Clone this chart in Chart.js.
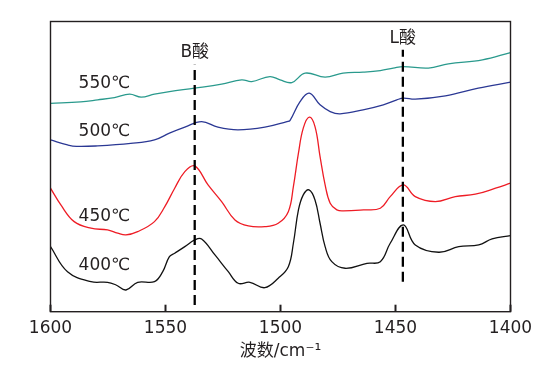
<!DOCTYPE html>
<html><head><meta charset="utf-8">
<script src="https://cdn.jsdelivr.net/npm/chart.js@4/dist/chart.umd.min.js"></script>
<style>html,body{margin:0;padding:0;background:#fff}</style>
</head><body>
<canvas id="c" width="550" height="367"></canvas>
<script>
// ---- data (wavenumber in cm^-1, absorbance in arbitrary units) ----
const xTicks = [1600, 1550, 1500, 1450, 1400];

const wn550 = [1600,1586.9,1579.5,1572.2,1565.6,1560.6,1554.8,1548.3,1537.3,1525.6,1516.9,1512.5,1504.6,1500.2,1495.1,1489.3,1480.6,1472.8,1464.1,1456.6,1451,1446.6,1435.7,1427,1412.2,1400];
const ab550 = [208.2,209.7,211.7,214,217.4,214.4,217.4,220,223.4,227.4,231.7,230,235,231.7,229,238.4,234.4,238.4,239.4,241,243.4,245,243.4,247.7,251.7,259];

const wn500 = [1600,1592.6,1588.7,1579.5,1565.1,1554.8,1548.3,1541.6,1534.3,1527.2,1518.5,1506.8,1497.2,1495.9,1491.5,1487.5,1482.8,1478.4,1474.1,1464.1,1455.3,1449.4,1446.6,1441.4,1428.3,1414,1400];
const ab500 = [171.7,166.7,165.2,165.7,168.2,171.7,178.4,184.4,190,184.4,181.7,184.4,190,191,210,218.4,206.7,200,197.7,201.7,206.7,211.7,213.4,212.4,215.7,223.4,229.4];

const wn450 = [1600,1595.5,1589.7,1582.4,1575.2,1570.8,1567.2,1562.1,1554.8,1550.3,1546,1541.6,1537.3,1531.5,1525.6,1519.8,1514,1506.8,1501,1496.6,1494.4,1492.2,1490.1,1487.5,1485,1482.8,1480.6,1478.4,1475.5,1472.6,1463.9,1456.6,1452.3,1446.6,1441.4,1432.7,1424,1415.3,1406.5,1400];
const ab450 = [123.4,106.7,90,83.4,81.7,78.4,76.7,80,90,105,123.4,140,145.7,126.7,110,91.7,85.7,85,88.4,100,125,158.4,183.4,194.4,185,155,126.7,108.4,101.7,100.7,101.7,103.4,115,126.7,115,110,115,117.4,123.4,128.4];

const wn400 = [1600,1592.6,1582.4,1575.2,1571.5,1567.2,1562.1,1554.8,1551.2,1548.3,1546,1541.6,1537.3,1534.3,1528.5,1522.7,1518.4,1513.3,1506.8,1501,1496.6,1494.4,1492.2,1490.1,1487.6,1485,1482.8,1480.6,1477.7,1471.9,1462.4,1456.6,1452.3,1446.6,1441.4,1431.2,1422.5,1413.8,1408,1400];
const ab400 = [65,40,30,29.4,26.7,21.7,29.4,30,40,55,58.4,65,71.7,72.7,56.7,40,28.4,29.4,24,33.4,45,68.4,101.7,116.7,121.7,111.7,88.4,65,50,43.4,48.4,50,68.4,86.7,66.7,59.4,65,66.7,72.7,76];

const seriesNames = ['550℃', '500℃', '450℃', '400℃'];
const seriesColors = ['#2a9a8d', '#2b3894', '#ee1c25', '#111111'];
const nameWn = [1587.8, 1587.8, 1587.8, 1587.8];
const nameAb = [228, 180.2, 94.7, 45.9];

const acidNames = ['B酸', 'L酸'];
const acidWn = [1537.3, 1446.8];
const acidLow = [6.7, 30];
const acidHigh = [246.7, 261.7];
const acidLabelAb = [259.2, 272.7];

const FONT = "'DejaVu Sans', 'Noto Sans CJK SC', sans-serif";
const INK = '#231f20';

function pts(xs, ys) { return xs.map((x, i) => ({x: x, y: ys[i]})); }

const datasets = [];
acidWn.forEach((w, i) => {
  datasets.push({
    data: [{x: w, y: acidLow[i]}, {x: w, y: acidHigh[i]}],
    borderColor: '#000', borderWidth: 2.3, borderDash: [10, 5],
    pointRadius: 0, tension: 0, order: 0
  });
});
[[wn550, ab550], [wn500, ab500], [wn450, ab450], [wn400, ab400]].forEach((s, i) => {
  datasets.push({
    data: pts(s[0], s[1]),
    borderColor: seriesColors[i], borderWidth: 1.3,
    pointRadius: 0, tension: 0.4, order: 1
  });
});

const decor = {
  id: 'decor',
  afterDatasetsDraw(chart) {
    const ctx = chart.ctx, a = chart.chartArea;
    const xs = chart.scales.x, ys = chart.scales.y;
    ctx.save();
    ctx.strokeStyle = INK; ctx.lineWidth = 1.4;
    ctx.strokeRect(a.left, a.top, a.right - a.left, a.bottom - a.top);
    ctx.lineWidth = 2;
    xTicks.forEach(t => {
      const px = xs.getPixelForValue(t);
      ctx.beginPath(); ctx.moveTo(px, a.bottom); ctx.lineTo(px, a.bottom - 7); ctx.stroke();
    });
    ctx.fillStyle = INK;
    ctx.font = '17px ' + FONT;
    ctx.textBaseline = 'middle';
    ctx.textAlign = 'left';
    seriesNames.forEach((n, i) => {
      ctx.fillText(n, xs.getPixelForValue(nameWn[i]), ys.getPixelForValue(nameAb[i]));
    });
    ctx.textAlign = 'center';
    acidNames.forEach((n, i) => {
      ctx.fillText(n, xs.getPixelForValue(acidWn[i]), ys.getPixelForValue(acidLabelAb[i]));
    });
    ctx.restore();
  }
};

new Chart(document.getElementById('c'), {
  type: 'line',
  data: {datasets: datasets},
  options: {
    responsive: false, animation: false, devicePixelRatio: 1,
    layout: {padding: {left: 50.5, right: 39.5, top: 21.5, bottom: 0}},
    plugins: {legend: {display: false}, tooltip: {enabled: false}},
    scales: {
      x: {
        type: 'linear', min: 1400, max: 1600, reverse: true,
        afterFit(s) { s.height = 55.3; },
        afterBuildTicks(s) { s.ticks = xTicks.map(v => ({value: v})); },
        grid: {display: false, drawTicks: false},
        border: {display: false},
        ticks: {color: INK, font: {family: FONT, size: 17}, padding: 7, maxRotation: 0, callback: v => String(v)},
        title: {display: true, text: '波数/cm⁻¹', color: INK, font: {family: FONT, size: 17}, padding: {top: 0, bottom: 5}}
      },
      y: {type: 'linear', min: 0, max: 290, display: false}
    }
  },
  plugins: [decor]
});
</script>
</body></html>
